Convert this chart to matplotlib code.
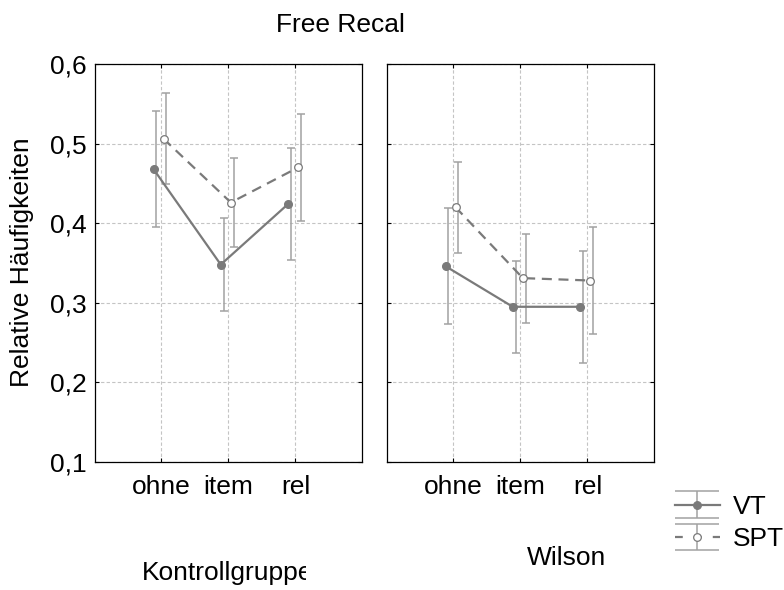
import numpy as np
import matplotlib
matplotlib.use("Agg")
import matplotlib.pyplot as plt
from matplotlib.lines import Line2D
from matplotlib.collections import LineCollection
from matplotlib.container import ErrorbarContainer
from matplotlib.legend_handler import HandlerErrorbar
from matplotlib.transforms import Bbox, TransformedBbox

plt.rcParams['font.family'] = ['Liberation Sans', 'DejaVu Sans']

# Free Recall - relative Haeufigkeiten je Hinweisbedingung
conditions = ["ohne", "item", "rel"]
groups = ["Kontrollgruppe", "Wilson"]
series = ["VT", "SPT"]
yticks = [0.1, 0.2, 0.3, 0.4, 0.5, 0.6]

vt_kontroll = [0.468, 0.348, 0.424]
spt_kontroll = [0.506, 0.426, 0.470]
vt_wilson = [0.346, 0.295, 0.295]
spt_wilson = [0.420, 0.331, 0.328]

vt_err = [0.073, 0.058, 0.070]
spt_err = [0.057, 0.056, 0.067]

LINE_GREY = "#7a7a7a"
ERR_GREY = "#a2a2a2"
GRID_GREY = "#c4c4c4"
VT_SHIFT = -0.11
SPT_SHIFT = 0.04
BAR_SHIFT = 0.042
FS = 19

fig = plt.figure(figsize=(7.84, 5.9), dpi=100)
ax1 = fig.add_axes([95 / 784, 128 / 590, 267 / 784, 398 / 590])
ax2 = fig.add_axes([387 / 784, 128 / 590, 267 / 784, 398 / 590])

x = np.arange(len(conditions))
for ax, vt, spt in [(ax1, vt_kontroll, spt_kontroll), (ax2, vt_wilson, spt_wilson)]:
    ax.errorbar(x + VT_SHIFT + BAR_SHIFT, vt, yerr=vt_err, fmt='none', ecolor=ERR_GREY,
                elinewidth=1.1, capsize=2.8, capthick=1.1, zorder=2)
    ax.errorbar(x + SPT_SHIFT + BAR_SHIFT, spt, yerr=spt_err, fmt='none', ecolor=ERR_GREY,
                elinewidth=1.1, capsize=2.8, capthick=1.1, zorder=2)
    ax.plot(x + VT_SHIFT, vt, '-', color=LINE_GREY, lw=1.6, marker='o', ms=5.5,
            mfc=LINE_GREY, mec=LINE_GREY, zorder=3)
    ax.plot(x + SPT_SHIFT, spt, '--', dashes=(4.5, 3), color=LINE_GREY, lw=1.6, marker='o',
            ms=5.5, mfc='white', mec=LINE_GREY, mew=0.9, zorder=3)

    ax.set_xlim(-0.98, 2.99)
    ax.set_ylim(0.1, 0.6)
    ax.set_xticks(x)
    ax.set_xticklabels(conditions, fontsize=FS)
    ax.set_yticks(yticks)
    ax.grid(True, color=GRID_GREY, linestyle=(0, (3, 2)), linewidth=0.8)
    ax.set_axisbelow(True)
    ax.tick_params(direction='in', length=3, width=0.8, top=True, right=True, pad=9)
    for sp in ax.spines.values():
        sp.set_linewidth(0.9)

ax1.set_yticklabels([f"{v:.1f}".replace(".", ",") for v in yticks], fontsize=FS)
ax1.tick_params(axis='y', pad=6)
ax2.set_yticklabels([])

fig.text(340 / 784, 1 - 32 / 590, "Free Recal", ha='center', va='baseline', fontsize=FS)
fig.text(22 / 784, 1 - 262 / 590, "Relative Häufigkeiten", rotation=90,
         ha='center', va='center', fontsize=FS)

# Gruppenbeschriftung links wird am rechten Rand abgeschnitten
t = fig.text(142 / 784, 1 - 580 / 590, groups[0], ha='left', va='baseline', fontsize=FS)
t.set_clip_box(TransformedBbox(Bbox([[0, 0], [306 / 784, 1]]), fig.transFigure))
t.set_clip_on(True)
fig.text(527 / 784, 1 - 565 / 590, groups[1], ha='left', va='baseline', fontsize=FS)


def proxy(ls, mfc):
    line = Line2D([], [], color=LINE_GREY, lw=1.6, linestyle=ls, marker='o', ms=5.5,
                  mfc=mfc, mec=LINE_GREY, mew=0.9)
    if ls == '--':
        line.set_dashes((3.5, 5))
    cap = Line2D([], [], color=ERR_GREY, marker='_', ms=32, mew=1.1, linestyle='none')
    bars = LineCollection([], colors=ERR_GREY, linewidths=1.1)
    return ErrorbarContainer((line, (cap,), (bars,)), has_xerr=False, has_yerr=True)


handles = [proxy('-', LINE_GREY), proxy('--', 'white')]
fig.legend(handles, series, loc='center left',
           bbox_to_anchor=(675 / 784, 1 - 523 / 590), frameon=False, fontsize=FS,
           handlelength=1.7, handletextpad=0.5, labelspacing=0.32, borderpad=0,
           borderaxespad=0, handler_map={ErrorbarContainer: HandlerErrorbar(xerr_size=0.5)})

fig.savefig("out.png", dpi=100)
